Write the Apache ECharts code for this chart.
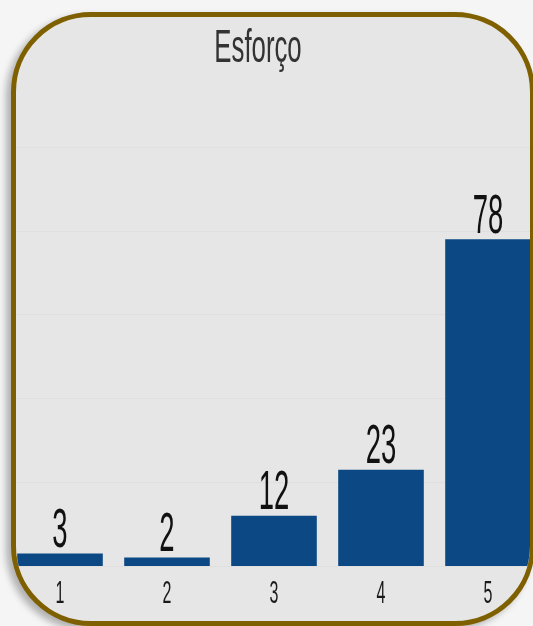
<!DOCTYPE html>
<html>
<head>
<meta charset="utf-8">
<script src="https://cdn.jsdelivr.net/npm/echarts@6/dist/echarts.min.js"></script>
<style>
  html, body { margin: 0; padding: 0; width: 533px; height: 626px; background: #f5f5f5; overflow: hidden; }
  #box {
    position: absolute; left: 11px; top: 12px; width: 524px; height: 614px;
    box-sizing: border-box; border: 5px solid #7f6000; border-radius: 80px;
    background: #e6e6e6; overflow: hidden;
    box-shadow: -5px 4px 7px rgba(0,0,0,0.28);
  }
  #chart { position: absolute; left: -16px; top: -17px; width: 560px; height: 626px; }
</style>
</head>
<body>
<div id="box"><div id="chart"></div></div>
<script>
const titleText = 'Esforço';
const categories = ['1', '2', '3', '4', '5'];
const values = [3, 2, 12, 23, 78];
const yTicks = { min: 0, max: 100, interval: 20 };

const FONT = '"Liberation Sans", Arial, sans-serif';
const chart = echarts.init(document.getElementById('chart'), null, { renderer: 'canvas' });

chart.setOption({
  backgroundColor: 'transparent',
  animation: false,
  graphic: [{
    type: 'text', x: 258, y: 72, scaleX: 0.56,
    style: { text: titleText, font: '46px ' + FONT, fill: '#333', textAlign: 'center', textVerticalAlign: 'bottom' }
  }],
  grid: { left: 6.5, right: 18.5, top: 147, bottom: 60, containLabel: false },
  xAxis: {
    type: 'category', data: categories,
    axisLine: { show: false }, axisTick: { show: false },
    axisLabel: { show: false }
  },
  yAxis: {
    type: 'value', min: yTicks.min, max: yTicks.max, interval: yTicks.interval,
    axisLabel: { show: false }, axisLine: { show: false }, axisTick: { show: false },
    splitLine: { show: true, lineStyle: { color: '#d9d9d9', type: 'dotted', width: 1 } }
  },
  series: [{
    type: 'bar', data: values, barCategoryGap: '20%',
    itemStyle: { color: '#0b4884' }
  }, {
    // value labels above bars
    type: 'custom',
    data: values.map((v, i) => [i, v]),
    renderItem: function (params, api) {
      const p = api.coord([api.value(0), api.value(1)]);
      return {
        type: 'text', x: p[0], y: p[1] + 6, scaleX: 0.49,
        style: { text: String(api.value(1)), font: '56px ' + FONT, fill: '#111', textAlign: 'center', textVerticalAlign: 'bottom' }
      };
    }
  }, {
    // category labels under the axis
    type: 'custom',
    data: categories.map((c, i) => [i, 0]),
    renderItem: function (params, api) {
      const p = api.coord([api.value(0), 0]);
      return {
        type: 'text', x: p[0], y: p[1] + 44, scaleX: 0.5,
        style: { text: categories[api.value(0)], font: '32px ' + FONT, fill: '#1a1a1a', textAlign: 'center', textVerticalAlign: 'bottom' }
      };
    }
  }]
});
</script>
</body>
</html>
